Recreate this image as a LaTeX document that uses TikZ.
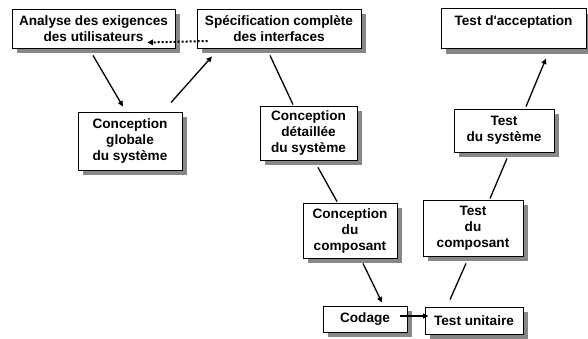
\documentclass[tikz,border=0pt]{standalone}
\usepackage{fontspec}
\setmainfont{Liberation Sans}[Ligatures=TeXOff]
\usetikzlibrary{arrows.meta,shadows}
\definecolor{shadowgray}{RGB}{135,135,135}
\begin{document}
\begin{tikzpicture}[x=1pt,y=-1pt,
  box/.style={draw=black, line width=0.9pt, fill=white, align=center, inner sep=0pt,
    font=\bfseries\fontsize{13.6}{16}\selectfont,
    drop shadow={shadow xshift=5pt, shadow yshift=-5pt, fill=shadowgray, opacity=1}},
  conn/.style={line width=1.3pt},
  arr/.style={conn, -{Triangle[length=5.5pt,width=5pt]}},
  dotarr/.style={line width=2pt, dash pattern=on 2pt off 2pt, -{Triangle[length=5.5pt,width=5.5pt]}}]
\useasboundingbox (0,0) rectangle (588,338);
\node[box, minimum width=163pt, minimum height=39pt] (a1) at (93.5,28.5) {Analyse des exigences\\des utilisateurs};
\node[box, minimum width=164pt, minimum height=39pt] (spec) at (279,28.5) {Spécification complète\\des interfaces};
\node[box, minimum width=145pt, minimum height=40pt] (acc) at (513.5,28.5) {Test d'acceptation\\\mbox{}};
\node[box, minimum width=104pt, minimum height=58pt] (cg) at (130,141) {Conception\\globale\\du système};
\node[box, minimum width=97pt, minimum height=54pt] (cd) at (308.5,133) {Conception\\détaillée\\du système};
\node[box, minimum width=94pt, minimum height=55pt] (cc) at (350,230.5) {Conception\\du\\composant};
\node[box, minimum width=84pt, minimum height=26pt] (cod) at (365,319) {Codage};
\node[box, minimum width=98pt, minimum height=27pt] (tu) at (474,320.5) {Test unitaire};
\node[box, minimum width=100pt, minimum height=56pt] (tc) at (473,228) {Test\\du\\composant};
\node[box, minimum width=100pt, minimum height=43pt] (ts) at (504,130.5) {Test\\du système};

\draw[arr] ([shift={(-0.5,7)}]a1.south) -- ([shift={(-7,-5)}]cg.north);
\draw[arr] ([shift={(41,-9)}]cg.north) -- ([shift={(-67,8)}]spec.south);
\draw[conn] ([shift={(-9,7)}]spec.south) -- ([shift={(-15.5,-1)}]cd.north);
\draw[conn] ([shift={(9.5,7)}]cd.south) -- ([shift={(-13,-1)}]cc.north);
\draw[arr] ([shift={(13,5)}]cc.south) -- ([shift={(17,-3)}]cod.north);
\draw[arr] ([shift={(-7,-3)}]cod.east) -- ([shift={(4,-4.5)}]tu.west);
\draw[conn] ([shift={(-24,-7)}]tu.north) -- ([shift={(-7,7)}]tc.south);
\draw[conn] ([shift={(17,-1)}]tc.north) -- ([shift={(3,6)}]ts.south);
\draw[arr] ([shift={(22,-2)}]ts.north) -- ([shift={(32.5,9.5)}]acc.south);
\draw[dotarr] ([shift={(11,12.5)}]spec.west) -- ([shift={(-28,14)}]a1.east);
\end{tikzpicture}
\end{document}
